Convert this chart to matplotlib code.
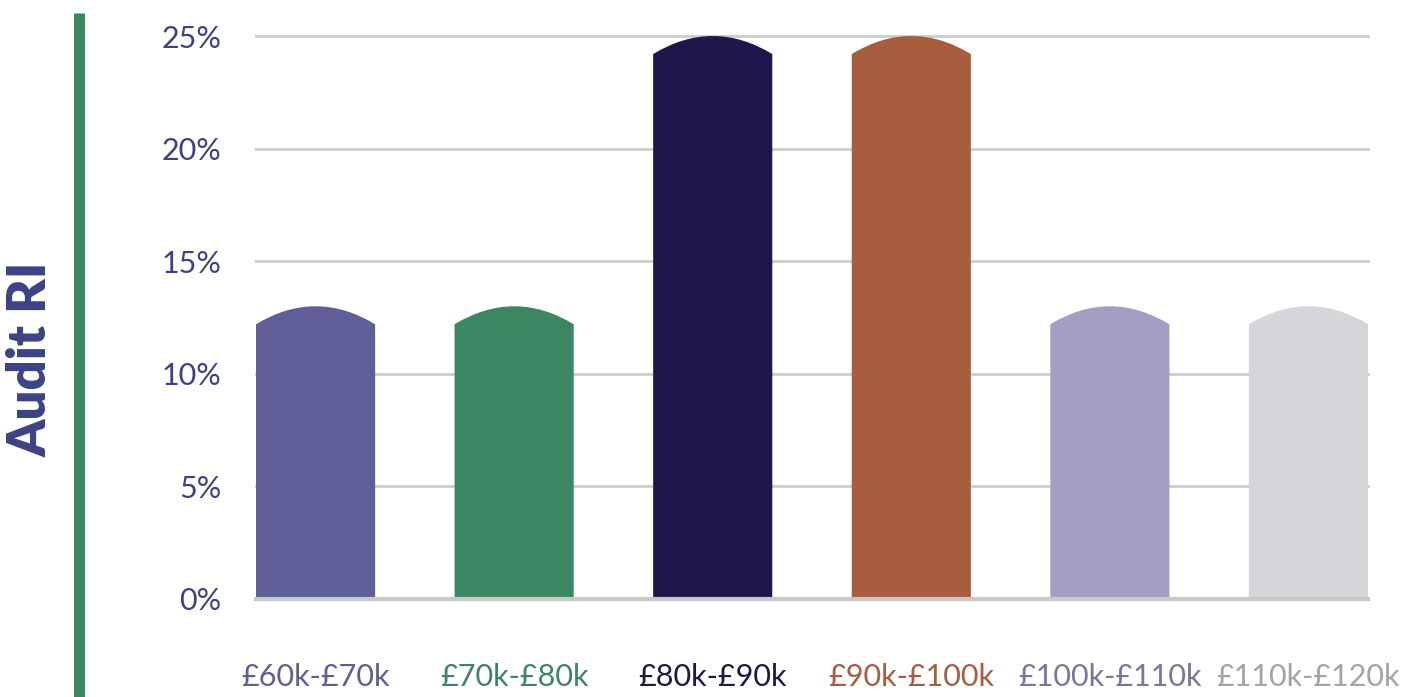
import matplotlib
matplotlib.use("Agg")
import matplotlib.pyplot as plt
from matplotlib.path import Path
from matplotlib.patches import PathPatch
from matplotlib.lines import Line2D

categories = ["£60k-£70k", "£70k-£80k", "£80k-£90k", "£90k-£100k", "£100k-£110k", "£110k-£120k"]
values = [13, 13, 25, 25, 13, 13]
bar_colors = ["#5f5e98", "#3b8764", "#1e174b", "#a85e3e", "#a39fc2", "#d5d5da"]
label_colors = ["#5f5e98", "#3b8764", "#1e174b", "#a85e3e", "#7a779e", "#a3a3a8"]
y_ticks = [0, 5, 10, 15, 20, 25]
y_tick_labels = ["0%", "5%", "10%", "15%", "20%", "25%"]

FONT = ["Lato", "DejaVu Sans"]
plt.rcParams["font.family"] = FONT

fig = plt.figure(figsize=(14.21, 6.97), dpi=100)
ax = fig.add_axes([256/1421, 1 - 599/697, (1368-256)/1421, (599-36)/697])

bar_w = 0.6
arch = 0.8  # arch height in data units
for i, (v, c) in enumerate(zip(values, bar_colors)):
    x0, x1 = i - bar_w/2, i + bar_w/2
    s = v - arch
    verts = [(x0, 0), (x0, s), (i, v + arch), (x1, s), (x1, 0), (x0, 0)]
    codes = [Path.MOVETO, Path.LINETO, Path.CURVE3, Path.CURVE3, Path.LINETO, Path.CLOSEPOLY]
    ax.add_patch(PathPatch(Path(verts, codes), facecolor=c, edgecolor="none", zorder=3))

ax.set_xlim(-0.3, len(categories) - 0.7)
ax.set_ylim(0, 25)
ax.set_yticks(y_ticks)
ax.set_yticklabels(y_tick_labels)
ax.set_xticks(range(len(categories)))
ax.set_xticklabels(categories)
for lbl, col in zip(ax.get_xticklabels(), label_colors):
    lbl.set_color(col)
ax.tick_params(axis="y", length=0, pad=25, labelsize=22, labelcolor="#3d4288")
ax.tick_params(axis="x", length=0, pad=46, labelsize=22)

for t in y_ticks[1:]:
    ax.axhline(t, color="#cccccc", lw=2, zorder=1, clip_on=False)
ax.axhline(0, color="#c8c8c8", lw=3, zorder=4, clip_on=False)
for sp in ax.spines.values():
    sp.set_visible(False)

fig.add_artist(Line2D([78.5/1421, 78.5/1421], [0, 1 - 13/697], color="#3b8764", lw=8,
                      solid_capstyle="butt"))
fig.text(31/1421, 1 - 359/697, "Audit RI", rotation=90, ha="center", va="center",
         fontsize=38, fontweight="heavy", color="#3d4288")

fig.savefig("out.png", dpi=100)
